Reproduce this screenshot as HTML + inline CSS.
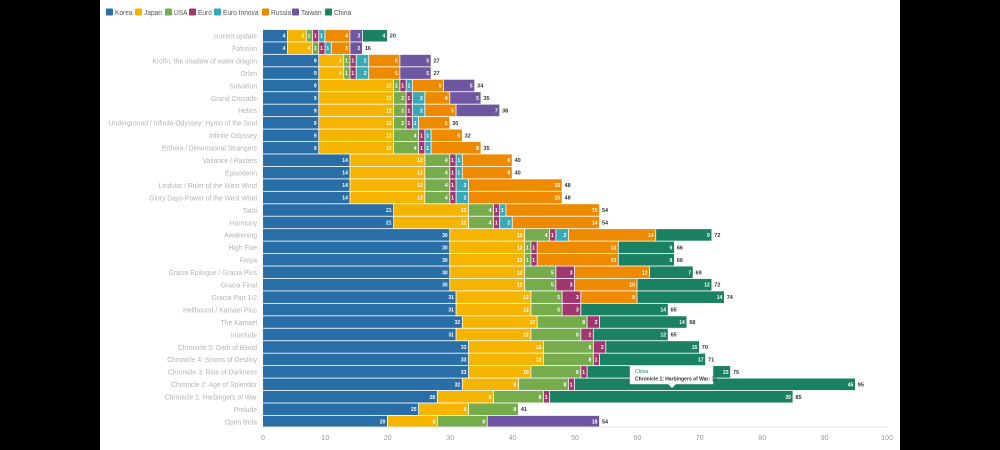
<!DOCTYPE html>
<html><head><meta charset="utf-8"><style>
html,body{margin:0;padding:0;background:#000;}
#w{position:relative;width:1000px;height:450px;background:#000;overflow:hidden}
svg{position:absolute;left:0;top:0}
text{font-family:"Liberation Sans",sans-serif}
</style></head><body><div id="w">
<svg id="s" width="1000" height="450" xmlns="http://www.w3.org/2000/svg">
<rect x="100" y="0" width="800" height="450" fill="#fff"/>
</svg></div>
<script>
var cols=["#2a6ea8","#f5b400","#77ac4c","#a1376f","#3aa9b6","#ee8a00","#6e56a0","#1a8262"];
var names=["Korea","Japan","USA","Euro","Euro Innova","Russia","Taiwan","China"];
var lx=[106,135,165,189,214,262,292,325];
var rows=[
["current update",[4,3,1,1,1,4,2,4]],
["Fafurion",[4,4,1,1,1,3,2,0]],
["Krofin, the shadow of water dragon",[9,4,1,1,2,5,5,0]],
["Orlen",[9,4,1,1,2,5,5,0]],
["Salvation",[9,12,1,1,1,5,5,0]],
["Grand Crusade",[9,12,2,1,2,4,5,0]],
["Helios",[9,12,2,1,2,5,7,0]],
["Underground / Infinite Odyssey: Hymn of the Soul",[9,12,2,1,1,5,0,0]],
["Infinite Odyssey",[9,12,4,1,1,5,0,0]],
["Ertheia / Dimensional Strangers",[9,12,4,1,1,8,0,0]],
["Valiance / Raiders",[14,12,4,1,1,8,0,0]],
["Episodeon",[14,12,4,1,1,8,0,0]],
["Lindvior / Ruler of the West Wind",[14,12,4,1,2,15,0,0]],
["Glory Days-Power of the West Wind",[14,12,4,1,2,15,0,0]],
["Tauti",[21,12,4,1,1,15,0,0]],
["Harmony",[21,12,4,1,2,14,0,0]],
["Awakening",[30,12,4,1,2,14,0,9]],
["High Five",[30,12,1,1,0,13,0,9]],
["Freya",[30,12,1,1,0,13,0,9]],
["Gracia Epilogue / Gracia Plus",[30,12,5,3,0,12,0,7]],
["Gracia Final",[30,12,5,3,0,10,0,12]],
["Gracia Part 1/2",[31,12,5,3,0,9,0,14]],
["Hellbound / Kamael Plus",[31,12,5,3,0,0,0,14]],
["The Kamael",[32,12,8,2,0,0,0,14]],
["Interlude",[31,12,8,2,0,0,0,12]],
["Chronicle 5: Oath of Blood",[33,12,8,2,0,0,0,15]],
["Chronicle 4: Scions of Destiny",[33,12,8,1,0,0,0,17]],
["Chronicle 3: Rise of Darkness",[33,10,8,1,0,0,0,23]],
["Chronicle 2: Age of Splendor",[32,9,8,1,0,0,0,45]],
["Chronicle 1: Harbingers of War",[28,9,8,1,0,0,0,39]],
["Prelude",[25,8,8,0,0,0,0,0]],
["Open Beta",[20,8,8,0,0,0,18,0]]];
var s="",X0=263,K=6.24,SC=0.9;
for(var i=0;i<8;i++){s+='<rect x="'+lx[i]+'" y="8.5" width="7" height="7" rx="1" fill="'+cols[i]+'"/><text transform="translate('+(lx[i]+9)+',15) scale(0.88,1)" font-size="7.5" fill="#555">'+names[i]+'</text>';}
for(var r=0;r<rows.length;r++){
 var cy=35.7+r*12.45,y=cy-5.8,c=0,d=rows[r][1];
 s+='<text transform="translate(257,'+(cy+2.8)+') scale('+SC+',1)" font-size="7.5" fill="#b4b4b4" text-anchor="end">'+rows[r][0]+'</text>';
 for(var i=0;i<8;i++){if(!d[i])continue;var x=X0+c*K,w=d[i]*K;
  s+='<rect x="'+x+'" y="'+y+'" width="'+(w-0.8)+'" height="11.6" fill="'+cols[i]+'"/>';
  s+='<text x="'+(x+w-2.5)+'" y="'+(cy+2)+'" font-size="5" font-weight="bold" fill="#fff" text-anchor="end">'+d[i]+'</text>';
  c+=d[i];}
 s+='<text x="'+(X0+c*K+2)+'" y="'+(cy+2)+'" font-size="5.5" font-weight="bold" fill="#333">'+c+'</text>';
}
s+='<line x1="263" y1="427" x2="888" y2="427" stroke="#e6e6e6" stroke-width="1"/>';
for(var t=0;t<=100;t+=10){s+='<text x="'+(X0+t*K)+'" y="440" font-size="7" fill="#999" text-anchor="middle">'+t+'</text>';}
s+='<rect x="630" y="366" width="83" height="18" fill="#fff" stroke="#ddd" stroke-width="0.5"/><path d="M668 384 L672 388 L676 384 Z" fill="#fff"/>';
s+='<text x="635" y="373" font-size="5" fill="#1a8262">China</text><text x="635" y="380.5" font-size="5" font-weight="bold" fill="#333">Chronicle 1: Harbingers of War: <tspan font-weight="normal">39</tspan></text>';
document.getElementById("s").insertAdjacentHTML("beforeend",s);
</script></body></html>
